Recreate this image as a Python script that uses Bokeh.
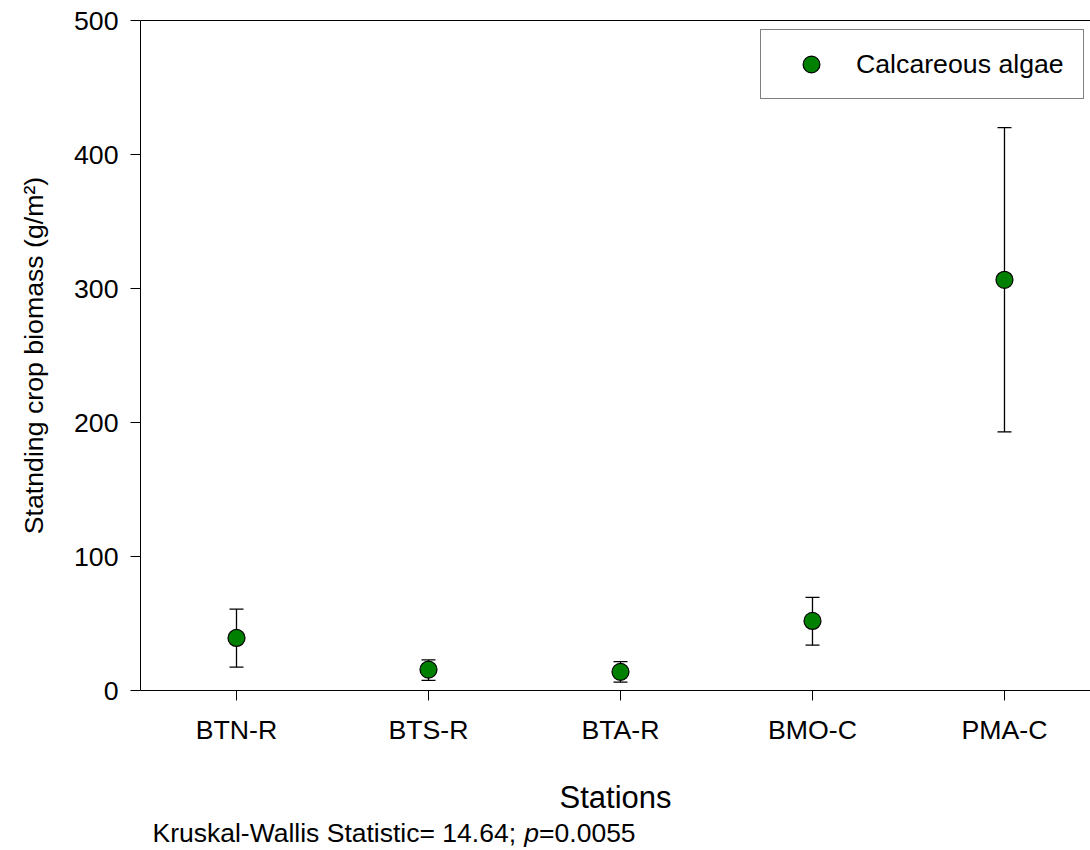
from bokeh.plotting import figure
from bokeh.layouts import column
from bokeh.models import (Range1d, FixedTicker, LinearAxis, Whisker, TeeHead,
                          ColumnDataSource, Legend, LegendItem, Label)
from bokeh.embed import file_html
from bokeh.resources import INLINE

# ---- data ----
stations = ["BTN-R", "BTS-R", "BTA-R", "BMO-C", "PMA-C"]
biomass = [39.2, 15.6, 13.9, 51.9, 306.5]
upper_err = [60.8, 22.8, 21.6, 69.5, 420.0]
lower_err = [17.4, 7.5, 6.2, 33.8, 193.0]
y_ticks = [0, 100, 200, 300, 400, 500]
series_name = "Calcareous algae"
stat_text = "Kruskal-Wallis Statistic= 14.64; "
p_text = "p"
p_value_text = "=0.0055"

FONT = "Liberation Sans"
xpos = [i + 1 for i in range(len(stations))]
src = ColumnDataSource(dict(x=xpos, y=biomass, upper=upper_err, lower=lower_err))

NOTE_H = 32
p = figure(width=1090, height=850 - NOTE_H, output_backend="svg", toolbar_location=None,
           x_range=Range1d(0.5, 5.448), y_range=Range1d(0, 500),
           min_border_left=140, min_border_right=0, min_border_top=20,
           min_border_bottom=128)
p.grid.visible = False
p.outline_line_color = None
p.background_fill_color = "white"
p.border_fill_color = "white"

# y axis
ya = p.yaxis[0]
ya.ticker = FixedTicker(ticks=y_ticks)
ya.minor_tick_line_color = None
ya.major_tick_out = 10
ya.major_tick_in = 0
ya.major_label_standoff = 12
ya.major_label_text_font = FONT
ya.major_label_text_font_size = "26.7px"
ya.major_label_text_color = "black"
ya.axis_line_color = "black"
ya.major_tick_line_color = "black"
ya.axis_label = "Statnding crop biomass (g/m²)"
ya.axis_label_text_font = FONT
ya.axis_label_text_font_style = "normal"
ya.axis_label_text_font_size = "26.7px"
ya.axis_label_text_color = "black"
ya.axis_label_standoff = 22

# x axis
xa = p.xaxis[0]
xa.ticker = FixedTicker(ticks=xpos)
xa.major_label_overrides = {x: s for x, s in zip(xpos, stations)}
xa.minor_tick_line_color = None
xa.major_tick_out = 10
xa.major_tick_in = 0
xa.major_label_standoff = 14
xa.major_label_text_font = FONT
xa.major_label_text_font_size = "26.7px"
xa.major_label_text_color = "black"
xa.axis_line_color = "black"
xa.major_tick_line_color = "black"
xa.axis_label = "Stations"
xa.axis_label_text_font = FONT
xa.axis_label_text_font_style = "normal"
xa.axis_label_text_font_size = "31px"
xa.axis_label_text_color = "black"
xa.axis_label_standoff = 32

# top frame line
top = LinearAxis(ticker=FixedTicker(ticks=[]), major_tick_line_color=None,
                 minor_tick_line_color=None, major_label_text_font_size="0px",
                 axis_line_color="black")
p.add_layout(top, "above")

# error bars
w = Whisker(source=src, base="x", upper="upper", lower="lower",
            line_color="black", line_width=1.3,
            upper_head=TeeHead(size=14, line_color="black", line_width=1.3),
            lower_head=TeeHead(size=14, line_color="black", line_width=1.3))
p.add_layout(w)

r = p.scatter("x", "y", source=src, size=17, fill_color="#008000",
              line_color="black", line_width=1.2)

legend = Legend(items=[LegendItem(label=series_name, renderers=[r])],
                location=(620, 591), padding=13, glyph_width=74, glyph_height=42,
                label_standoff=8, label_width=214, label_text_font=FONT,
                label_text_font_size="26.7px",
                label_text_color="black", border_line_color="black", border_line_width=1,
                background_fill_alpha=1, margin=0, spacing=0)
p.add_layout(legend, "center")

# statistics note strip below the chart; its frame is aligned with the chart frame
# (starts at the y axis), so ranges are in pixels measured from the axis line
note = figure(width=1090, height=NOTE_H, output_backend="svg", toolbar_location=None,
              x_range=Range1d(0, 950), y_range=Range1d(0, NOTE_H),
              x_axis_type=None, y_axis_type=None, min_border=0,
              min_border_left=140, min_border_right=0)
note.grid.visible = False
note.outline_line_color = None
note.background_fill_color = "white"
note.border_fill_color = "white"

fs = 26.5
x0 = 12
w1 = 14.032 * fs
w2 = 0.556 * fs
common = dict(y=NOTE_H - 14, text_font=FONT, text_font_size=f"{fs}px",
              text_baseline="middle", text_color="black")
note.add_layout(Label(x=x0, text=stat_text, **common))
note.add_layout(Label(x=x0 + w1, text=p_text, text_font_style="italic", **common))
note.add_layout(Label(x=x0 + w1 + w2, text=p_value_text, **common))

layout = column(p, note, spacing=0)
open("out.html", "w").write(file_html(layout, INLINE))
